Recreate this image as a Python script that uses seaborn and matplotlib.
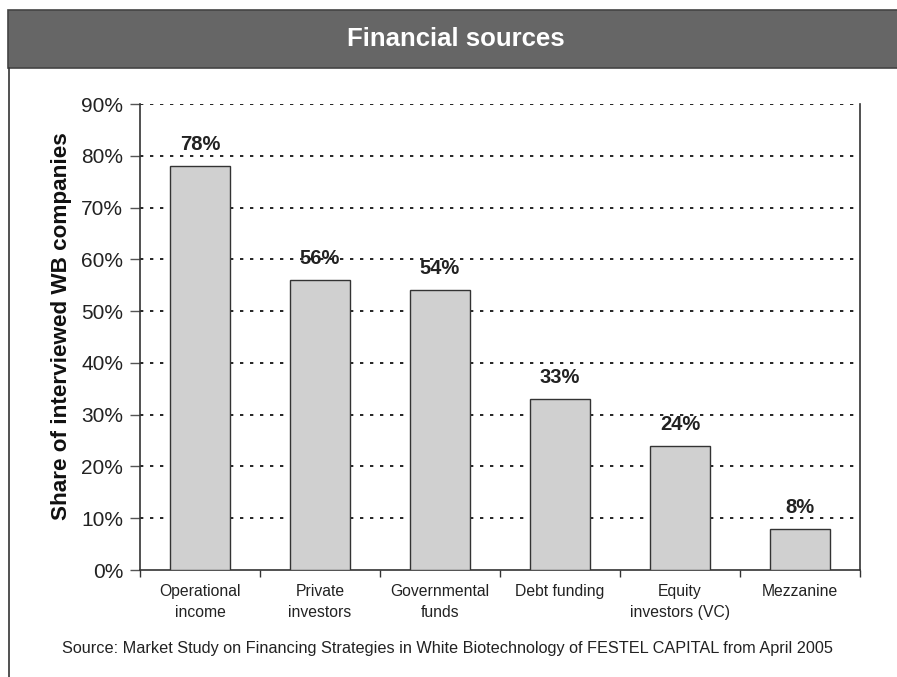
import matplotlib
matplotlib.use('Agg')
import matplotlib.pyplot as plt
import seaborn as sns
import pandas as pd
import numpy as np
from matplotlib.patches import Rectangle
from matplotlib.lines import Line2D

sns.set_style("white")
plt.rcParams['font.family'] = ['Liberation Sans', 'DejaVu Sans']

# data
categories = ['Operational\nincome', 'Private\ninvestors', 'Governmental\nfunds',
              'Debt funding', 'Equity\ninvestors (VC)', 'Mezzanine']
shares = [78, 56, 54, 33, 24, 8]
y_ticks = [0, 10, 20, 30, 40, 50, 60, 70, 80, 90]

title = 'Financial sources'
y_label = 'Share of interviewed WB companies'
source = ('Source: Market Study on Financing Strategies in White Biotechnology '
          'of FESTEL CAPITAL from April 2005')

df = pd.DataFrame({'cat': categories, 'share': shares})

W, H = 897, 677
fig = plt.figure(figsize=(W / 100, H / 100), dpi=100)

# left frame line + dark title bar
fig.lines.append(Line2D([8.5 / W, 8.5 / W], [0, 1 - 68 / H], transform=fig.transFigure,
                        color='#333333', linewidth=1.2))
fig.patches.append(Rectangle((8 / W, 1 - 68 / H), 1, 58 / H, transform=fig.transFigure,
                             facecolor='#666666', edgecolor='#444444', linewidth=1.2))
fig.text(456 / W, 1 - 39 / H, title, color='white', fontsize=18.5,
         fontweight='bold', ha='center', va='center')

ax = fig.add_axes([140 / W, 1 - 570 / H, 720 / W, 466 / H])
sns.barplot(data=df, x='cat', y='share', ax=ax, color='#d0d0d0', width=0.5,
            edgecolor='#333333', linewidth=1.0, saturation=1, zorder=3)

ax.set_ylim(0, 90)
ax.set_xlim(-0.5, len(categories) - 0.5)
ax.set_yticks(y_ticks)
ax.set_yticklabels([f'{t}%' for t in y_ticks], fontsize=15, color='#222222')
ax.set_xticks(np.arange(-0.5, len(categories), 1.0))
ax.set_xticklabels([])
ax.set_xticks(np.arange(len(categories)), minor=True)
ax.set_xticklabels(categories, minor=True, fontsize=11.3, color='#222222', linespacing=1.55)
ax.tick_params(axis='x', which='minor', length=0, pad=10)
ax.tick_params(axis='x', which='major', length=5, width=1, color='#333333', direction='out', bottom=True)
ax.tick_params(axis='y', length=7, width=1, color='#555555', direction='out', left=True, pad=5)

for y in y_ticks[1:]:
    ax.axhline(y, color='black', linestyle=(0, (2, 4)), linewidth=1.2, zorder=1)

for side in ['left', 'bottom', 'right']:
    ax.spines[side].set_color('#333333')
    ax.spines[side].set_linewidth(1.2)
ax.spines['top'].set_visible(False)

for i, v in enumerate(shares):
    ax.text(i, v + 2.3, f'{v}%', ha='center', va='bottom', fontsize=14.5,
            fontweight='bold', color='#222222', zorder=4)

ax.set_xlabel('')
ax.set_ylabel(y_label, fontsize=16.2, fontweight='bold', color='#111111')
ax.yaxis.set_label_coords(-0.094, 0.524)

fig.text(447 / W, 1 - 648 / H, source, fontsize=11.7, ha='center', va='center', color='#222222')

fig.savefig('out.png', dpi=100)
